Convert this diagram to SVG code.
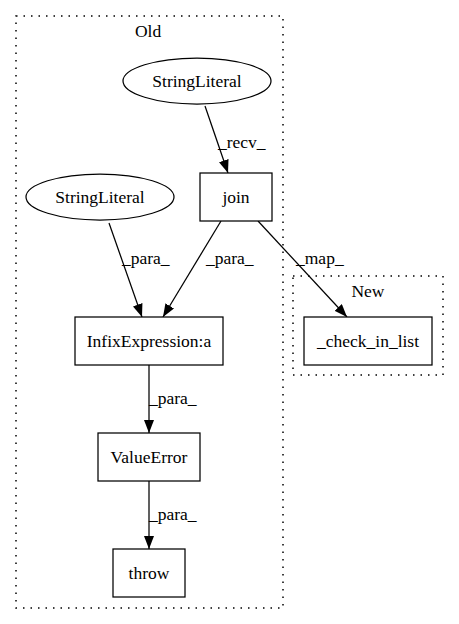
<svg xmlns="http://www.w3.org/2000/svg" width="459" height="624" viewBox="0 0 459 624">
<defs>
<style>
text{font-family:"Liberation Serif","Times New Roman",serif;font-size:17.5px;fill:#000;text-anchor:middle}
.lbl{text-anchor:start}
.cl{fill:none;stroke:#000;stroke-width:1.5;stroke-dasharray:1.5,6}
.nd{fill:#fff;stroke:#000;stroke-width:1.25}
.ed{fill:none;stroke:#000;stroke-width:1.25}
</style>
<marker id="ah" viewBox="0 0 13 10" refX="13" refY="5" markerWidth="13" markerHeight="10" markerUnits="userSpaceOnUse" orient="auto">
<path d="M0,0 L13,5 L0,10 Z" fill="#000"/>
</marker>
</defs>
<rect width="459" height="624" fill="#fff"/>
<g id="cluster_old">
<rect class="cl" x="16" y="16" width="267" height="592"/>
<text x="148" y="37">Old</text>
</g>
<g id="cluster_new">
<rect class="cl" x="293" y="276" width="150" height="99"/>
<text x="368" y="297">New</text>
</g>
<g id="edges">
<path class="ed" d="M205,106 L228,173" marker-end="url(#ah)"/>
<text class="lbl" x="218" y="148">_recv_</text>
<path class="ed" d="M109,223 L142,317" marker-end="url(#ah)"/>
<text class="lbl" x="122" y="264">_para_</text>
<path class="ed" d="M221,221 L163,317" marker-end="url(#ah)"/>
<text class="lbl" x="206" y="264">_para_</text>
<path class="ed" d="M258,221 L347,317" marker-end="url(#ah)"/>
<text class="lbl" x="296" y="264">_map_</text>
<path class="ed" d="M149,365 L149,433" marker-end="url(#ah)"/>
<text class="lbl" x="149" y="404">_para_</text>
<path class="ed" d="M149,481 L149,549" marker-end="url(#ah)"/>
<text class="lbl" x="149" y="520">_para_</text>
</g>
<g id="stringliteral_top">
<ellipse class="nd" cx="197" cy="81" rx="74" ry="23"/>
<text x="197" y="87">StringLiteral</text>
</g>
<g id="join">
<rect class="nd" x="200" y="173" width="72" height="48"/>
<text x="236" y="203">join</text>
</g>
<g id="stringliteral_left">
<ellipse class="nd" cx="100" cy="197" rx="74" ry="23"/>
<text x="100" y="203">StringLiteral</text>
</g>
<g id="infix">
<rect class="nd" x="75" y="317" width="148" height="48"/>
<text x="149" y="347">InfixExpression:a</text>
</g>
<g id="check_in_list">
<rect class="nd" x="304" y="317" width="128" height="48"/>
<text x="368" y="347">_check_in_list</text>
</g>
<g id="valueerror">
<rect class="nd" x="98" y="433" width="102" height="48"/>
<text x="149" y="463">ValueError</text>
</g>
<g id="throw">
<rect class="nd" x="113" y="549" width="72" height="48"/>
<text x="149" y="579">throw</text>
</g>
</svg>
